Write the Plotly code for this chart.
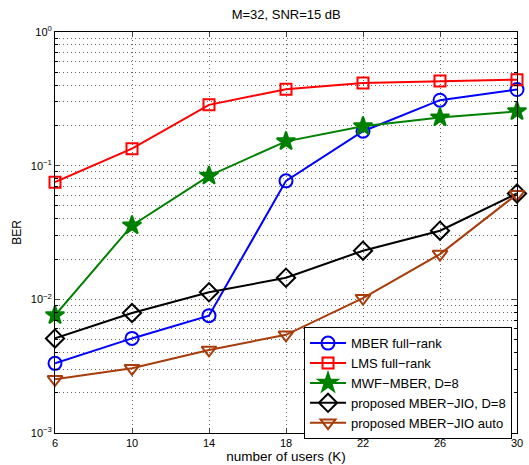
import plotly.graph_objects as go

users = [6, 10, 14, 18, 22, 26, 30]
mber_full = [0.00332, 0.0051, 0.00755, 0.077, 0.181, 0.309, 0.371]
lms_full = [0.0753, 0.134, 0.285, 0.373, 0.416, 0.43, 0.44]
mwf_mber = [0.0076, 0.0357, 0.084, 0.152, 0.197, 0.229, 0.255]
jio_d8 = [0.0051, 0.0079, 0.0113, 0.0145, 0.0231, 0.0326, 0.062]
jio_auto = [0.00252, 0.00305, 0.00418, 0.00543, 0.0102, 0.0218, 0.0612]

names = ["MBER full\u2212rank", "LMS full\u2212rank", "MWF\u2212MBER, D=8",
         "proposed MBER\u2212JIO, D=8", "proposed MBER\u2212JIO auto"]
ytick_vals = [1e-3, 1e-2, 1e-1, 1]
ytick_text = ["10<sup>\u22123</sup>", "10<sup>\u22122</sup>", "10<sup>\u22121</sup>", "10<sup>0</sup>"]

BROWN = "rgb(168,60,10)"
GREEN = "rgb(0,128,0)"
GRID = "rgb(100,100,100)"
DASH = "1px,3px"
series = [
    (mber_full, "blue", "circle-open", 13),
    (lms_full, "red", "square-open", 11),
    (mwf_mber, GREEN, "star", 14),
    (jio_d8, "black", "diamond-open", 14),
    (jio_auto, BROWN, "triangle-down-open", 13),
]

fig = go.Figure()
for (vals, col, sym, sz), nm in zip(series, names):
    fig.add_trace(go.Scatter(
        x=users, y=vals, name=nm, mode="lines+markers",
        line=dict(color=col, width=2),
        marker=dict(symbol=sym, size=sz, color=col,
                    line=dict(color=col, width=2)),
        cliponaxis=False,
    ))

fig.update_layout(
    width=529, height=465,
    margin=dict(l=55, r=12, t=32, b=32),
    paper_bgcolor="white", plot_bgcolor="white",
    font=dict(family="Liberation Sans, Arial, sans-serif", size=11, color="black"),
    title=dict(text="M=32, SNR=15 dB", x=0.541, xanchor="center", y=0.968,
               yanchor="middle", font=dict(size=13)),
    showlegend=True,
    legend=dict(x=0.539, y=0.264, xanchor="left", yanchor="top",
                bgcolor="white", bordercolor="black", borderwidth=1,
                font=dict(size=13), tracegroupgap=0, itemwidth=36),
)
fig.update_xaxes(
    range=[6, 30], tickvals=users, showline=True, linecolor="black",
    linewidth=1, mirror="ticks", ticks="inside", ticklen=5,
    showgrid=True, gridcolor=GRID, griddash=DASH, gridwidth=1,
    zeroline=False, automargin=False,
    title=dict(text="number of users (K)", standoff=0, font=dict(size=13.5)),
)
fig.update_yaxes(
    type="log", range=[-3, 0], tickvals=ytick_vals, ticktext=ytick_text,
    showline=True, linecolor="black", linewidth=1, mirror="ticks",
    ticks="inside", ticklen=5,
    showgrid=True, gridcolor=GRID, griddash=DASH, gridwidth=1,
    minor=dict(dtick="D1", showgrid=True, gridcolor=GRID,
               griddash=DASH, ticks="inside", ticklen=3, tickcolor="black"),
    zeroline=False, automargin=False,
    title=dict(text="BER", standoff=6, font=dict(size=12)),
)

# remove the default 8px page margin so the figure fills the window exactly
fig.write_html("out.html", config={"displayModeBar": False},
               post_script="document.body.style.margin='0px';")
